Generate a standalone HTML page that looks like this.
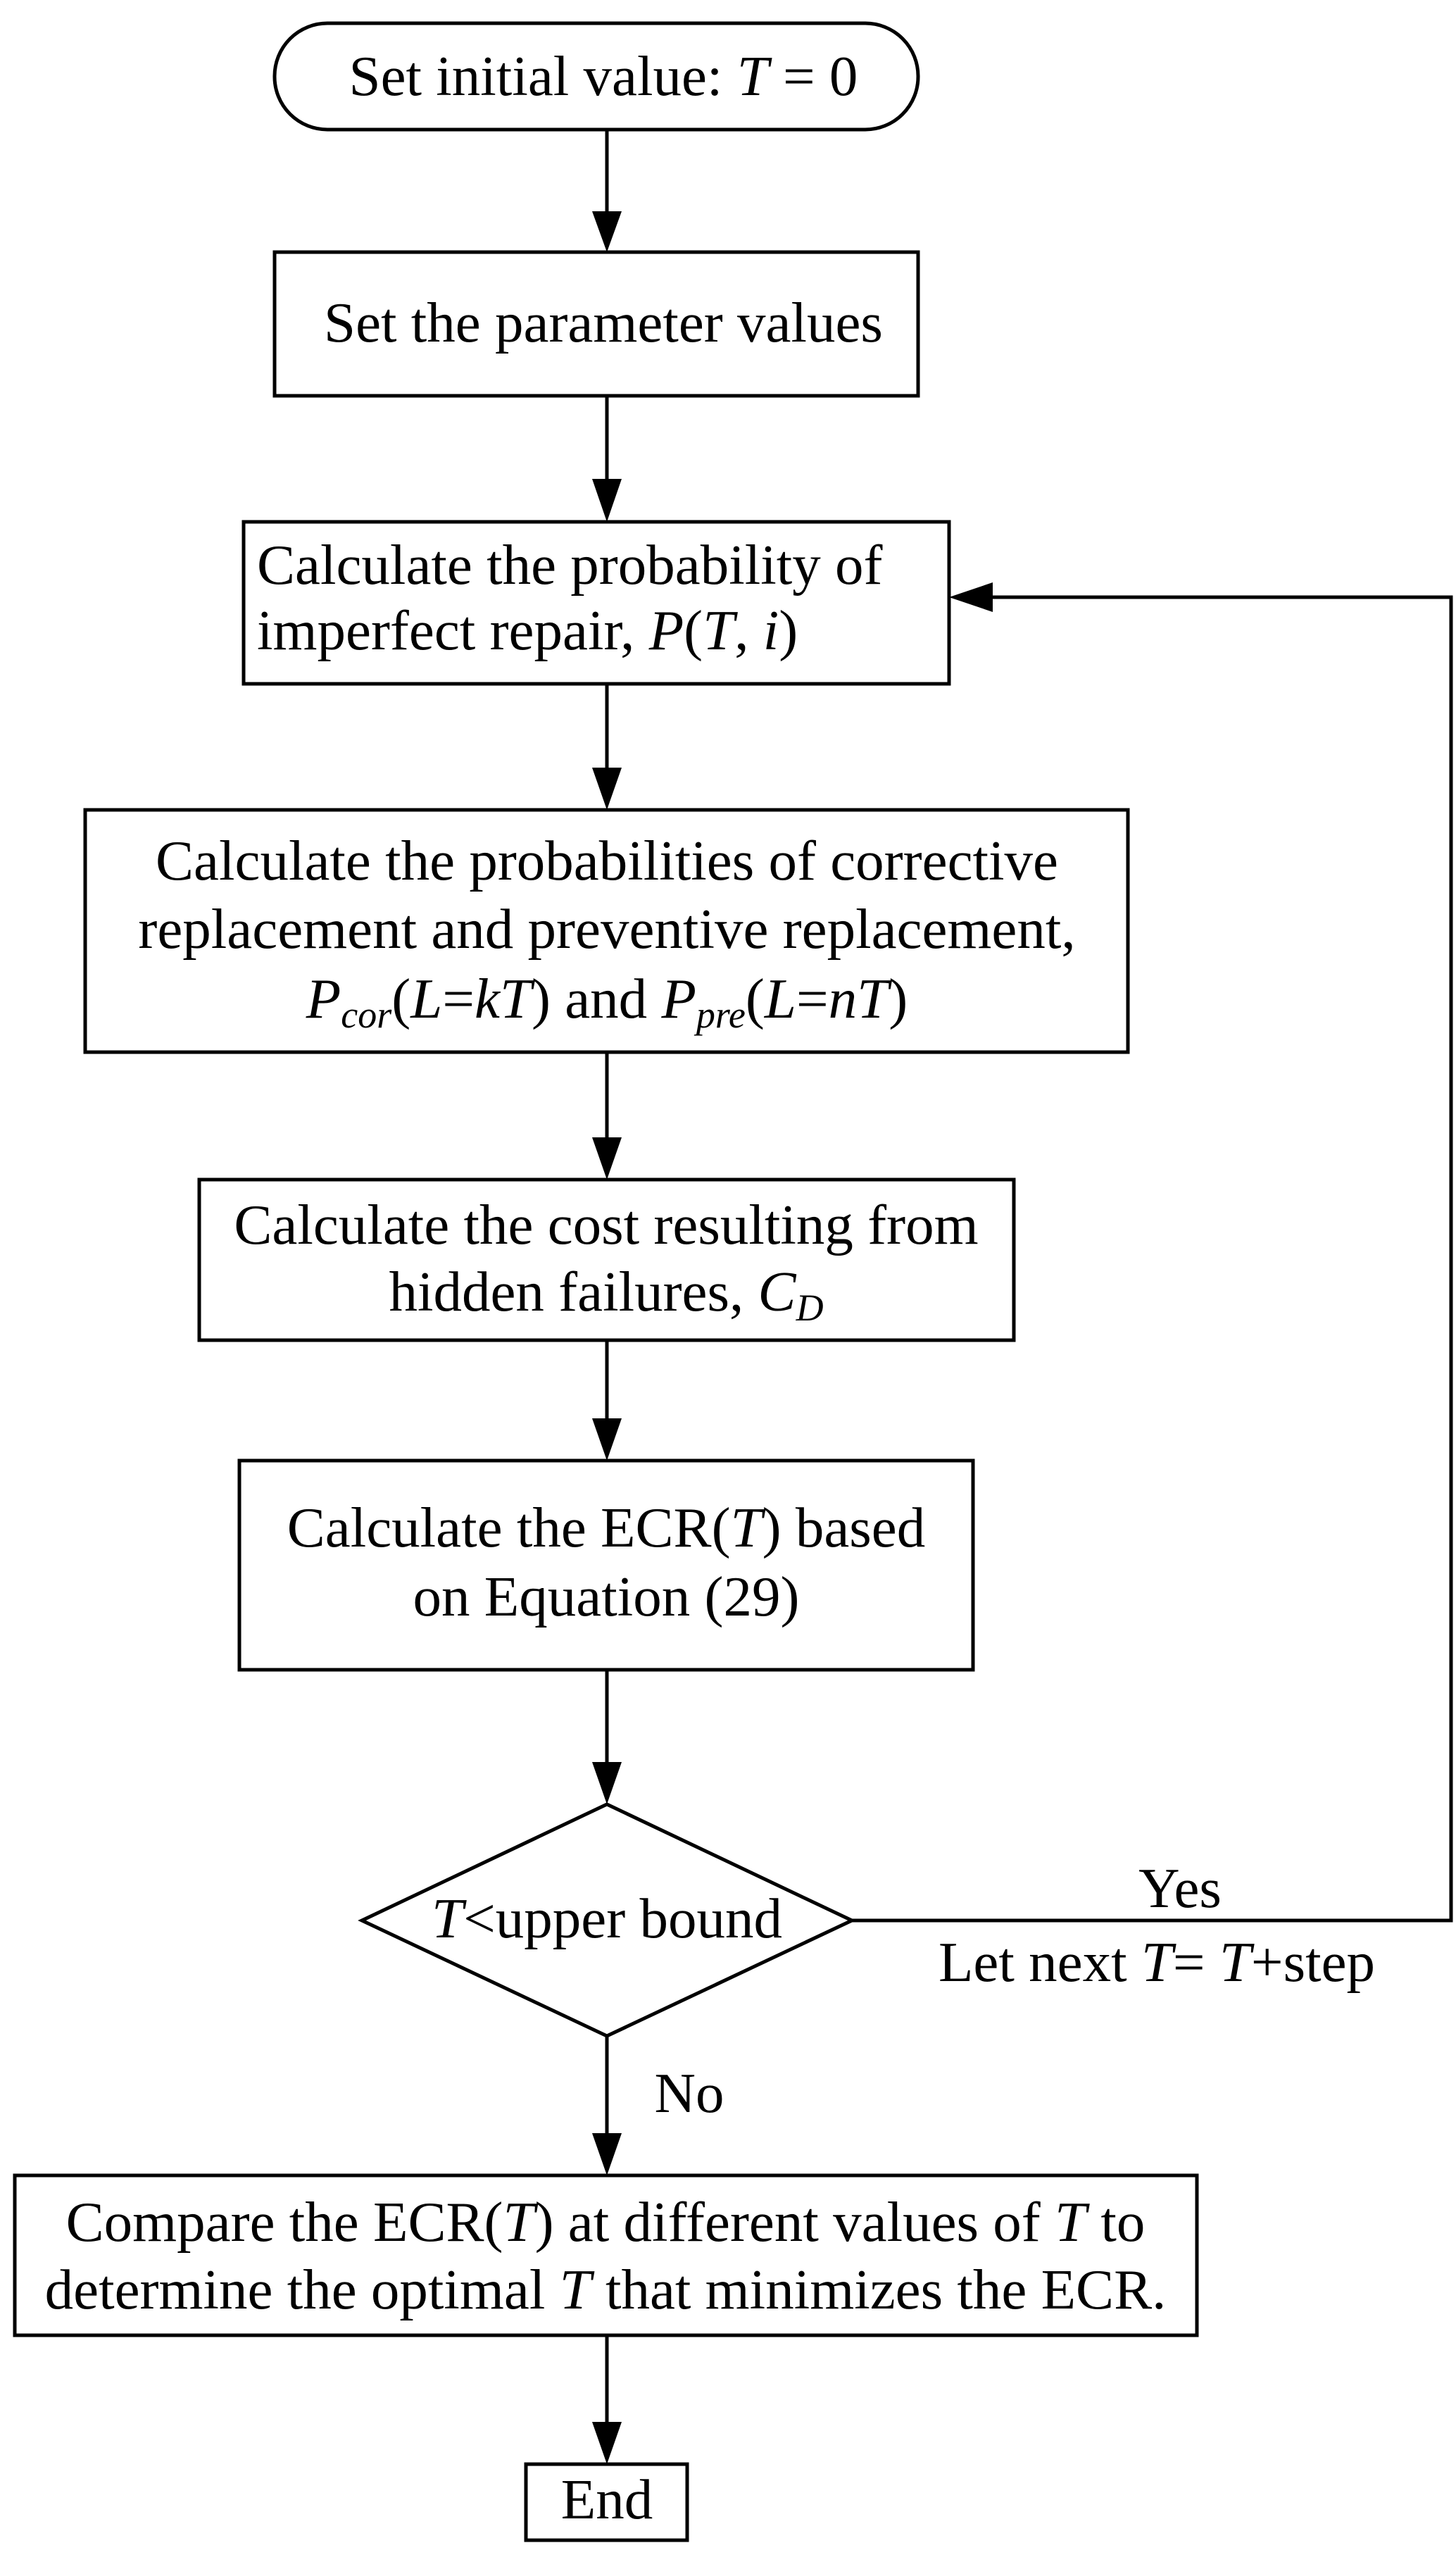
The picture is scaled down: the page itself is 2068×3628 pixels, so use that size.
<!DOCTYPE html>
<html><head><meta charset="utf-8"><style>
html,body{margin:0;padding:0;background:#fff;}
svg{display:block;}
text{font-family:"Liberation Serif",serif;font-size:81px;fill:#000;}
</style></head><body>
<svg width="2068" height="3628" viewBox="0 0 2068 3628" xmlns="http://www.w3.org/2000/svg">
<g fill="none" stroke="#000" stroke-width="5">
<rect x="390" y="33" width="914" height="151" rx="75"/>
<rect x="390" y="358" width="914" height="204"/>
<rect x="346" y="741" width="1002" height="230"/>
<rect x="121" y="1150" width="1481" height="344"/>
<rect x="283" y="1675" width="1157" height="228"/>
<rect x="340" y="2074" width="1042" height="297"/>
<polygon points="862,2562 1210,2727 862,2891 514,2727"/>
<rect x="21" y="3089" width="1679" height="227"/>
<rect x="747" y="3499" width="229" height="108"/>
</g>
<g stroke="#000" stroke-width="5" fill="none">
<line x1="862" y1="184" x2="862" y2="300"/>
<line x1="862" y1="562" x2="862" y2="680"/>
<line x1="862" y1="971" x2="862" y2="1090"/>
<line x1="862" y1="1494" x2="862" y2="1615"/>
<line x1="862" y1="1903" x2="862" y2="2014"/>
<line x1="862" y1="2371" x2="862" y2="2502"/>
<line x1="862" y1="2891" x2="862" y2="3029"/>
<line x1="862" y1="3316" x2="862" y2="3439"/>
<polyline points="1210,2727 2061,2727 2061,848 1410,848"/>
</g>
<g fill="#000">
<polygon points="841,300 883,300 862,358"/>
<polygon points="841,680 883,680 862,741"/>
<polygon points="841,1090 883,1090 862,1150"/>
<polygon points="841,1615 883,1615 862,1675"/>
<polygon points="841,2014 883,2014 862,2074"/>
<polygon points="841,2502 883,2502 862,2562"/>
<polygon points="841,3029 883,3029 862,3089"/>
<polygon points="841,3439 883,3439 862,3499"/>
<polygon points="1410,827 1410,869 1348,848"/>
</g>
<g text-anchor="middle">
<text x="857" y="135">Set initial value: <tspan font-style="italic">T</tspan> = 0</text>
<text x="857" y="485">Set the parameter values</text>
<text x="862" y="1249">Calculate the probabilities of corrective</text>
<text x="862" y="1346">replacement and preventive replacement,</text>
<text x="862" y="1445"><tspan font-style="italic">P</tspan><tspan font-style="italic" font-size="54" dy="14">cor</tspan><tspan dy="-14">(</tspan><tspan font-style="italic">L</tspan>=<tspan font-style="italic">kT</tspan>) and <tspan font-style="italic">P</tspan><tspan font-style="italic" font-size="54" dy="14">pre</tspan><tspan dy="-14">(</tspan><tspan font-style="italic">L</tspan>=<tspan font-style="italic">nT</tspan>)</text>
<text x="861" y="1766">Calculate the cost resulting from</text>
<text x="861" y="1861">hidden failures, <tspan font-style="italic">C</tspan><tspan font-style="italic" font-size="54" dy="14">D</tspan></text>
<text x="861" y="2196">Calculate the ECR(<tspan font-style="italic">T</tspan>) based</text>
<text x="861" y="2294">on Equation (29)</text>
<text x="862" y="2751"><tspan font-style="italic">T</tspan>&lt;upper bound</text>
<text x="1676" y="2708">Yes</text>
<text x="1643" y="2813">Let next <tspan font-style="italic">T</tspan>= <tspan font-style="italic">T</tspan>+step</text>
<text x="860" y="3182">Compare the ECR(<tspan font-style="italic">T</tspan>) at different values of <tspan font-style="italic">T</tspan> to</text>
<text x="860" y="3278">determine the optimal <tspan font-style="italic">T</tspan> that minimizes the ECR.</text>
<text x="862" y="3576">End</text>
</g>
<text x="979" y="2999" text-anchor="middle">No</text>
<text x="365" y="829">Calculate the probability of</text>
<text x="365" y="922">imperfect repair, <tspan font-style="italic">P</tspan>(<tspan font-style="italic">T</tspan>, <tspan font-style="italic">i</tspan>)</text>
</svg>
</body></html>
